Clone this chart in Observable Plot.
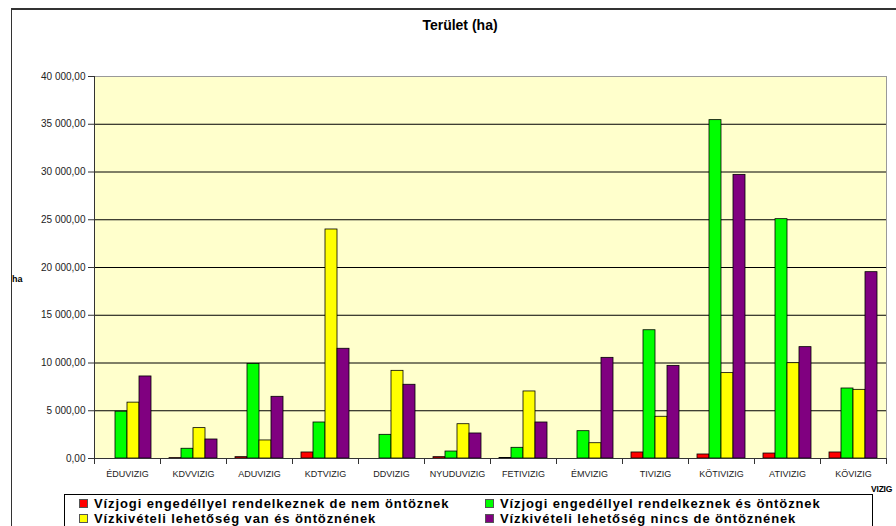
<!DOCTYPE html>
<html>
<head>
<meta charset="utf-8">
<script src="https://cdn.jsdelivr.net/npm/d3@7"></script>
<script src="https://cdn.jsdelivr.net/npm/@observablehq/plot@0.6"></script>
<style>
  html, body { margin: 0; padding: 0; background: #fff; overflow: hidden; }
  #wrap { position: relative; width: 896px; height: 526px; overflow: hidden; font-family: "Liberation Sans", Arial, sans-serif; }
  #outer { position: absolute; left: 11px; top: 8px; width: 1000px; height: 1000px; border-top: 2px solid #333; border-left: 1.5px solid #333; }
  #chart { position: absolute; left: 0; top: 0; }
  #title { position: absolute; left: 0; width: 920px; top: 17px; text-align: center; font-weight: bold; font-size: 14px; color: #000; }
  #ylab { position: absolute; left: 12px; top: 274px; font-weight: bold; font-size: 9px; color: #000; }
  #xlab { position: absolute; left: 871px; top: 484px; font-weight: bold; font-size: 8.5px; color: #000; white-space: nowrap; letter-spacing: -0.2px; }
  #legend { position: absolute; left: 64px; top: 494px; width: 807px; height: 60px; border: 1px solid #000; background: #fff; }
  .item { position: absolute; font-weight: bold; font-size: 13px; letter-spacing: 0.9px; line-height: 15px; white-space: nowrap; color: #000; }
  .sw { display: inline-block; width: 7px; height: 7px; border: 1px solid #555; margin-right: 6px; vertical-align: 0px; }
</style>
</head>
<body>
<div id="wrap">
  <div id="outer"></div>
  <div id="chart"></div>
  <div id="title"></div>
  <div id="ylab"></div>
  <div id="xlab"></div>
  <div id="legend"></div>
</div>
<script>
const categories = ["ÉDUVIZIG","KDVVIZIG","ADUVIZIG","KDTVIZIG","DDVIZIG","NYUDUVIZIG","FETIVIZIG","ÉMVIZIG","TIVIZIG","KÖTIVIZIG","ATIVIZIG","KÖVIZIG"];
const seriesNames = [
  "Vízjogi engedéllyel rendelkeznek de nem öntöznek",
  "Vízjogi engedéllyel rendelkeznek és öntöznek",
  "Vízkivételi lehetőség van és öntöznének",
  "Vízkivételi lehetőség nincs de öntöznének"
];
const seriesColors = ["#FF0000", "#00FF00", "#FFFF00", "#800080"];
const redValues    = [0, 40, 140, 630, 0, 140, 50, 0, 630, 420, 520, 630];
const greenValues  = [4900, 1020, 9900, 3770, 2480, 730, 1120, 2860, 13430, 35430, 25060, 7330];
const yellowValues = [5850, 3180, 1890, 23980, 9180, 3590, 7020, 1600, 4370, 8940, 9980, 7190];
const purpleValues = [8590, 1990, 6460, 11490, 7720, 2620, 3770, 10540, 9700, 29700, 11660, 19510];
const yTicks = [0, 5000, 10000, 15000, 20000, 25000, 30000, 35000, 40000];
const titleText = "Terület (ha)";
const yLabelText = "ha";
const xLabelText = "VIZIG";

const seriesValues = [redValues, greenValues, yellowValues, purpleValues];
const data = categories.flatMap((c, i) => seriesNames.map((s, j) => ({category: c, series: s, value: seriesValues[j][i]})))
  .filter(d => d.value > 0);

const fmt = v => d3.format(",.2f")(v).replace(/,/g, " ").replace(".", ",");

const W = 896, H = 485, MT = 76, MB = 27, ML = 92, MR = 9;
const plotH = H - MT - MB;
const tickLen = 5;

const chart = Plot.plot({
  width: W,
  height: H,
  marginTop: MT,
  marginBottom: MB,
  marginLeft: ML,
  marginRight: MR,
  style: {fontFamily: "'Liberation Sans', Arial, sans-serif", background: "transparent", color: "#222"},
  fx: {domain: categories, padding: 0, label: null},
  x: {domain: seriesNames, paddingInner: 0, paddingOuter: 0.7, axis: null},
  y: {domain: [0, 40000], label: null},
  color: {domain: seriesNames, range: seriesColors},
  marks: [
    Plot.frame({facet: "super", fill: "#FFFFCC", stroke: "#999"}),
    Plot.ruleY(yTicks.filter(v => v > 0 && v < 40000), {stroke: "#000", strokeWidth: 1}),
    Plot.barY(data, {fx: "category", x: "series", y: "value", fill: "series", stroke: "#000", strokeWidth: 0.8}),
    Plot.frame({facet: "super", anchor: "left", stroke: "#333"}),
    Plot.frame({facet: "super", anchor: "bottom", stroke: "#333"}),
    Plot.frame({anchor: "left", stroke: "#333", insetTop: plotH, insetBottom: -tickLen}),
    Plot.frame({anchor: "right", stroke: "#333", insetTop: plotH, insetBottom: -tickLen}),
    Plot.axisY({ticks: yTicks, tickFormat: fmt, tickSize: 6, tickPadding: 3, fontSize: 10, label: null, stroke: "#333", color: "#222"}),
    Plot.axisFx({anchor: "bottom", tickSize: 0, tickPadding: 12, fontSize: 9, label: null, color: "#222"})
  ]
});
document.getElementById("chart").appendChild(chart);

document.getElementById("title").textContent = titleText;
document.getElementById("ylab").textContent = yLabelText;
document.getElementById("xlab").textContent = xLabelText;

const legend = document.getElementById("legend");
const legendPos = [[14, 1], [420, 1], [14, 16], [420, 16]];
seriesNames.forEach((name, j) => {
  const el = document.createElement("div");
  el.className = "item";
  el.style.left = legendPos[j][0] + "px";
  el.style.top = legendPos[j][1] + "px";
  const sw = document.createElement("span");
  sw.className = "sw";
  sw.style.background = seriesColors[j];
  el.appendChild(sw);
  el.appendChild(document.createTextNode(name));
  legend.appendChild(el);
});
</script>
</body>
</html>
